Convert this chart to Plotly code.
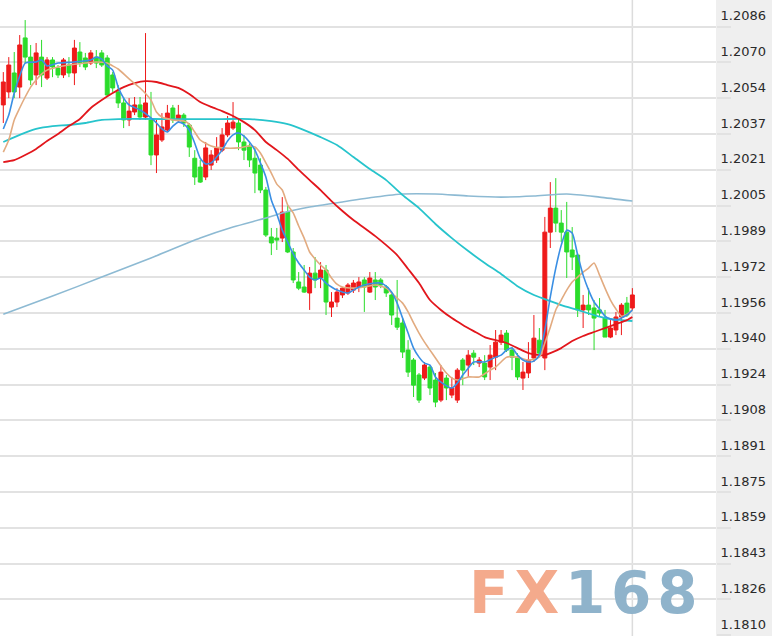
import plotly.graph_objects as go

# ---------------- candle data (index 0..115) ----------------
open_ = [
    1.20505, 1.20564, 1.20650, 1.20586, 1.20809, 1.20722, 1.20641, 1.20722, 1.20627, 1.20709,
    1.20672, 1.20641, 1.20686, 1.20650, 1.20745, 1.20718, 1.20695, 1.20722, 1.20741, 1.20718,
    1.20641, 1.20564, 1.20514, 1.20437, 1.20473, 1.20505, 1.20450, 1.20437, 1.20278, 1.20346,
    1.20391, 1.20491, 1.20437, 1.20459, 1.20414, 1.20263, 1.20223, 1.20178, 1.20232, 1.20255,
    1.20300, 1.20369, 1.20400, 1.20423, 1.20337, 1.20319, 1.20263, 1.20232, 1.20119, 1.19906,
    1.19901, 1.19901, 1.20019, 1.19838, 1.19702, 1.19679, 1.19652, 1.19742, 1.19720, 1.19756,
    1.19588, 1.19611, 1.19643, 1.19652, 1.19665, 1.19679, 1.19711, 1.19656, 1.19711, 1.19711,
    1.19679, 1.19643, 1.19538, 1.19516, 1.19393, 1.19348, 1.19280, 1.19266, 1.19316, 1.19257,
    1.19166, 1.19266, 1.19189, 1.19166, 1.19348, 1.19325, 1.19379, 1.19334, 1.19334, 1.19316,
    1.19361, 1.19429, 1.19470, 1.19393, 1.19361, 1.19266, 1.19289, 1.19357, 1.19438, 1.19357,
    1.19928, 1.20037, 1.19969, 1.19928, 1.19847, 1.19824, 1.19575, 1.19597, 1.19584, 1.19575,
    1.19538, 1.19452, 1.19484, 1.19543, 1.19606, 1.19584,
]
high = [
    1.20654, 1.20722, 1.20745, 1.20822, 1.20890, 1.20777, 1.20786, 1.20800, 1.20722, 1.20722,
    1.20686, 1.20718, 1.20722, 1.20800, 1.20790, 1.20741, 1.20754, 1.20754, 1.20754, 1.20731,
    1.20654, 1.20595, 1.20541, 1.20536, 1.20541, 1.20541, 1.20831, 1.20564, 1.20437, 1.20468,
    1.20505, 1.20505, 1.20505, 1.20468, 1.20423, 1.20300, 1.20255, 1.20337, 1.20300, 1.20359,
    1.20400, 1.20455, 1.20518, 1.20446, 1.20369, 1.20331, 1.20310, 1.20263, 1.20133, 1.19947,
    1.19947, 1.20087, 1.20051, 1.19856, 1.19747, 1.19779, 1.19770, 1.19815, 1.19792, 1.19779,
    1.19656, 1.19674, 1.19679, 1.19697, 1.19711, 1.19724, 1.19724, 1.19747, 1.19747, 1.19720,
    1.19688, 1.19652, 1.19711, 1.19538, 1.19438, 1.19357, 1.19289, 1.19339, 1.19325, 1.19289,
    1.19325, 1.19280, 1.19271, 1.19311, 1.19357, 1.19393, 1.19393, 1.19361, 1.19370, 1.19416,
    1.19484, 1.19484, 1.19484, 1.19407, 1.19379, 1.19339, 1.19429, 1.19552, 1.19493, 1.19997,
    1.20155, 1.20173, 1.20028, 1.20065, 1.19951, 1.19833, 1.19643, 1.19674, 1.19620, 1.19629,
    1.19575, 1.19529, 1.19566, 1.19606, 1.19634, 1.19674,
]
low = [
    1.20423, 1.20536, 1.20536, 1.20536, 1.20695, 1.20595, 1.20595, 1.20586, 1.20618, 1.20631,
    1.20627, 1.20627, 1.20631, 1.20595, 1.20677, 1.20663, 1.20686, 1.20672, 1.20677, 1.20541,
    1.20564, 1.20491, 1.20400, 1.20409, 1.20459, 1.20437, 1.20437, 1.20232, 1.20196, 1.20337,
    1.20382, 1.20423, 1.20427, 1.20405, 1.20269, 1.20142, 1.20151, 1.20164, 1.20210, 1.20242,
    1.20291, 1.20359, 1.20391, 1.20300, 1.20255, 1.20223, 1.20105, 1.20105, 1.19906, 1.19824,
    1.19847, 1.19883, 1.19833, 1.19697, 1.19665, 1.19652, 1.19575, 1.19674, 1.19674, 1.19552,
    1.19543, 1.19588, 1.19629, 1.19643, 1.19652, 1.19656, 1.19566, 1.19652, 1.19620, 1.19674,
    1.19634, 1.19507, 1.19484, 1.19357, 1.19271, 1.19180, 1.19153, 1.19257, 1.19189, 1.19134,
    1.19157, 1.19166, 1.19175, 1.19153, 1.19234, 1.19271, 1.19325, 1.19316, 1.19257, 1.19257,
    1.19302, 1.19416, 1.19384, 1.19302, 1.19257, 1.19212, 1.19266, 1.19339, 1.19361, 1.19302,
    1.19856, 1.19928, 1.19883, 1.19720, 1.19756, 1.19543, 1.19493, 1.19552, 1.19393, 1.19543,
    1.19452, 1.19447, 1.19461, 1.19461, 1.19543, 1.19575,
]
close = [
    1.20609, 1.20686, 1.20564, 1.20777, 1.20722, 1.20618, 1.20741, 1.20641, 1.20709, 1.20677,
    1.20641, 1.20709, 1.20650, 1.20763, 1.20695, 1.20677, 1.20741, 1.20695, 1.20686, 1.20550,
    1.20582, 1.20514, 1.20437, 1.20477, 1.20505, 1.20450, 1.20514, 1.20278, 1.20369, 1.20405,
    1.20468, 1.20437, 1.20459, 1.20423, 1.20314, 1.20178, 1.20155, 1.20310, 1.20278, 1.20310,
    1.20369, 1.20423, 1.20427, 1.20337, 1.20300, 1.20255, 1.20196, 1.20119, 1.19915, 1.19879,
    1.19892, 1.20019, 1.19838, 1.19711, 1.19674, 1.19656, 1.19742, 1.19711, 1.19756, 1.19611,
    1.19611, 1.19656, 1.19674, 1.19688, 1.19697, 1.19702, 1.19679, 1.19720, 1.19679, 1.19688,
    1.19652, 1.19552, 1.19497, 1.19384, 1.19293, 1.19234, 1.19166, 1.19325, 1.19221, 1.19157,
    1.19293, 1.19221, 1.19221, 1.19302, 1.19302, 1.19370, 1.19361, 1.19348, 1.19271, 1.19370,
    1.19429, 1.19461, 1.19393, 1.19361, 1.19271, 1.19293, 1.19348, 1.19447, 1.19379, 1.19928,
    1.20037, 1.19969, 1.19928, 1.19838, 1.19815, 1.19575, 1.19597, 1.19575, 1.19538, 1.19561,
    1.19452, 1.19493, 1.19543, 1.19597, 1.19552, 1.19643,
]

# ---------------- moving-average lines (read at candle indices) ----------------
ma5_x = [0, 1, 2, 3, 4, 6, 7, 8, 10, 13, 16, 17, 18, 19, 20, 21, 22, 23, 25, 27, 28, 29, 30, 31, 32,
         33, 34, 35, 36, 37, 38, 39, 40, 41, 42, 43, 44, 45, 46, 47, 48, 49, 50, 51, 52, 53, 54, 55,
         56, 57, 58, 59, 60, 61, 63, 64, 65, 66, 68, 69, 70, 71, 72, 73, 74, 75, 76, 77, 78, 79, 80,
         82, 83, 84, 85, 86, 88, 90, 91, 92, 93, 94, 95, 96, 97, 98, 99, 100, 101, 102, 103, 104,
         105, 106, 107, 108, 109, 110, 111, 112, 113, 114, 115]
ma5 = [1.20396, 1.20459, 1.20559, 1.20636, 1.20695, 1.20700, 1.20709, 1.20682, 1.20695, 1.20700,
       1.20709, 1.20722, 1.20713, 1.20682, 1.20663, 1.20586, 1.20536, 1.20505, 1.20482, 1.20446,
       1.20423, 1.20396, 1.20382, 1.20409, 1.20427, 1.20418, 1.20391, 1.20331, 1.20263, 1.20237,
       1.20242, 1.20269, 1.20300, 1.20341, 1.20369, 1.20378, 1.20364, 1.20337, 1.20300, 1.20242,
       1.20178, 1.20074, 1.20010, 1.19937, 1.19883, 1.19829, 1.19788, 1.19756, 1.19724, 1.19711,
       1.19720, 1.19697, 1.19679, 1.19665, 1.19652, 1.19665, 1.19679, 1.19688, 1.19697, 1.19697,
       1.19683, 1.19656, 1.19606, 1.19538, 1.19470, 1.19402, 1.19361, 1.19334, 1.19325, 1.19271,
       1.19248, 1.19221, 1.19243, 1.19280, 1.19311, 1.19339, 1.19339, 1.19361, 1.19370, 1.19393,
       1.19402, 1.19370, 1.19348, 1.19339, 1.19343, 1.19370, 1.19484, 1.19634, 1.19765, 1.19869,
       1.19937, 1.19924, 1.19824, 1.19733, 1.19665, 1.19611, 1.19579, 1.19547, 1.19534, 1.19529,
       1.19538, 1.19552, 1.19575]

ma10_x = [0, 1, 2, 3, 4, 5, 6, 7, 8, 10, 12, 15, 17, 19, 20, 21, 23, 25, 27, 28, 29, 31, 33, 34, 35,
          36, 38, 40, 43, 45, 46, 47, 48, 49, 50, 51, 52, 53, 54, 55, 56, 57, 58, 59, 60, 61, 62, 64,
          66, 68, 70, 71, 72, 73, 74, 75, 76, 77, 78, 79, 80, 81, 82, 83, 85, 87, 89, 90, 91, 92, 94,
          96, 98, 99, 100, 101, 102, 103, 104, 105, 106, 107, 108, 109, 110, 111, 112, 113, 114, 115]
ma10 = [1.20291, 1.20346, 1.20437, 1.20491, 1.20541, 1.20586, 1.20618, 1.20645, 1.20663, 1.20677,
        1.20686, 1.20695, 1.20700, 1.20695, 1.20682, 1.20668, 1.20623, 1.20582, 1.20527, 1.20473,
        1.20450, 1.20437, 1.20432, 1.20418, 1.20382, 1.20346, 1.20319, 1.20310, 1.20310, 1.20319,
        1.20314, 1.20287, 1.20242, 1.20196, 1.20146, 1.20119, 1.20051, 1.20015, 1.19956, 1.19901,
        1.19838, 1.19806, 1.19779, 1.19756, 1.19720, 1.19692, 1.19679, 1.19674, 1.19679, 1.19688,
        1.19674, 1.19652, 1.19629, 1.19606, 1.19566, 1.19516, 1.19470, 1.19429, 1.19393, 1.19357,
        1.19321, 1.19289, 1.19266, 1.19257, 1.19271, 1.19271, 1.19302, 1.19316, 1.19339, 1.19361,
        1.19361, 1.19348, 1.19361, 1.19425, 1.19497, 1.19575, 1.19620, 1.19665, 1.19702, 1.19724,
        1.19747, 1.19765, 1.19788, 1.19733, 1.19674, 1.19620, 1.19579, 1.19547, 1.19556, 1.19575]

ma20_x = [0, 2, 4, 6, 8, 10, 12, 14, 16, 18, 20, 22, 24, 26, 28, 30, 32, 34, 36, 38, 40, 42, 44, 46,
          48, 50, 52, 54, 56, 58, 60, 62, 64, 66, 68, 70, 72, 74, 76, 78, 80, 82, 84, 86, 88, 90, 92,
          94, 96, 98, 99, 100, 102, 104, 106, 108, 110, 112, 114, 115]
ma20 = [1.20246, 1.20255, 1.20278, 1.20305, 1.20341, 1.20373, 1.20409, 1.20441, 1.20491, 1.20527,
        1.20559, 1.20586, 1.20604, 1.20613, 1.20609, 1.20595, 1.20582, 1.20555, 1.20518, 1.20496,
        1.20477, 1.20455, 1.20427, 1.20391, 1.20337, 1.20300, 1.20260, 1.20210, 1.20164, 1.20119,
        1.20069, 1.20024, 1.19983, 1.19947, 1.19910, 1.19869, 1.19824, 1.19761, 1.19697, 1.19620,
        1.19575, 1.19538, 1.19507, 1.19479, 1.19452, 1.19438, 1.19425, 1.19402, 1.19379, 1.19370,
        1.19370, 1.19379, 1.19402, 1.19434, 1.19457, 1.19475, 1.19493, 1.19511, 1.19529, 1.19543]

ma60_x = [0, 3, 6, 9, 12, 15, 18, 21, 30, 40, 45, 49, 52, 55, 58, 61, 64, 67, 70, 73, 76, 79, 82, 85,
          88, 91, 94, 97, 99, 102, 105, 108, 111, 113, 115]
ma60 = [1.20337, 1.20369, 1.20396, 1.20409, 1.20414, 1.20423, 1.20437, 1.20441, 1.20441, 1.20441,
        1.20441, 1.20432, 1.20418, 1.20391, 1.20359, 1.20323, 1.20269, 1.20214, 1.20164, 1.20096,
        1.20037, 1.19965, 1.19901, 1.19842, 1.19788, 1.19738, 1.19683, 1.19643, 1.19624, 1.19597,
        1.19575, 1.19552, 1.19534, 1.19529, 1.19525]

ma120_x = [0, 9, 18, 27, 36, 42, 48, 51, 56, 62, 68, 73, 79, 85, 91, 97, 103, 109, 115]
ma120 = [1.19556, 1.19638, 1.19724, 1.19811, 1.19901, 1.19951, 1.19992, 1.20015, 1.20042, 1.20065,
         1.20087, 1.20101, 1.20101, 1.20092, 1.20087, 1.20092, 1.20101, 1.20087, 1.20069]

# ---------------- axis ticks ----------------
tick_labels = ["1.1810", "1.1826", "1.1843", "1.1859", "1.1875", "1.1891", "1.1908", "1.1924",
               "1.1940", "1.1956", "1.1972", "1.1989", "1.2005", "1.2021", "1.2037", "1.2054",
               "1.2070", "1.2086"]
tick_low, tick_high = 1.1810, 1.2086
tick_vals = [tick_low + k * (tick_high - tick_low) / (len(tick_labels) - 1)
             for k in range(len(tick_labels))]

RED = "#ee1a1a"
GREEN = "#2bdc2b"
GRID = "#e2e2e2"

idx = list(range(len(close)))

fig = go.Figure()
fig.add_trace(go.Candlestick(
    x=idx, open=open_, high=high, low=low, close=close,
    increasing=dict(line=dict(color=RED, width=1), fillcolor=RED),
    decreasing=dict(line=dict(color=GREEN, width=1), fillcolor=GREEN),
    whiskerwidth=0, hoverinfo="skip", showlegend=False,
))

def add_line(xs, ys, color, width):
    fig.add_trace(go.Scatter(
        x=xs, y=ys, mode="lines",
        line=dict(color=color, width=width, shape="spline", smoothing=0.6),
        hoverinfo="skip", showlegend=False,
    ))

add_line(ma120_x, ma120, "#8dbad3", 1.6)
add_line(ma60_x, ma60, "#27c4cc", 1.8)
add_line(ma20_x, ma20, "#e2161c", 1.8)
add_line(ma10_x, ma10, "#e2ab80", 1.6)
add_line(ma5_x, ma5, "#3a8fe4", 1.6)

hs = "\u200a"
wm_text = ('<b><span style="color:#f4aa8c">F' + hs + 'X' + hs + '</span>'
           '<span style="color:#8fb3cb">1' + hs + '6' + hs + '8</span></b>')

fig.update_layout(
    width=772, height=636,
    margin=dict(l=0, r=56, t=0, b=0),
    paper_bgcolor="white", plot_bgcolor="white",
    showlegend=False,
    boxgap=0.2, boxgroupgap=0.1,
    hovermode=False,
    xaxis=dict(
        range=[-0.603, 130.29], showgrid=False, zeroline=False,
        showticklabels=False, ticks="", rangeslider=dict(visible=False),
        showline=False,
    ),
    yaxis=dict(
        side="right", range=[1.18096, 1.20981],
        tickmode="array", tickvals=tick_vals, ticktext=tick_labels,
        showgrid=True, gridcolor=GRID, gridwidth=2, zeroline=False,
        ticks="outside", ticklen=14, tickcolor=GRID, tickwidth=2,
        ticklabelstandoff=-13, ticklabelshift=-11,
        tickfont=dict(family="DejaVu Sans", size=13, color="#2a2a2a"),
        showline=False, automargin=False,
    ),
    shapes=[
        dict(type="rect", xref="paper", yref="paper", x0=1, x1=1.08, y0=0, y1=1,
             fillcolor="#efefef", line=dict(width=0), layer="below"),
        dict(type="line", xref="x", yref="paper", x0=idx[-1], x1=idx[-1], y0=0, y1=1,
             line=dict(color="#dcdcdc", width=1.5), layer="below"),
    ],
    annotations=[
        dict(xref="paper", yref="paper", x=0.8145, y=0.0676, xanchor="center", yanchor="middle",
             showarrow=False, text=wm_text,
             font=dict(family="DejaVu Sans", size=58)),
    ],
)

fig.write_html(
    "out.html",
    config={"displayModeBar": False},
    post_script="document.body.style.margin='0';document.body.style.overflow='hidden';",
)
